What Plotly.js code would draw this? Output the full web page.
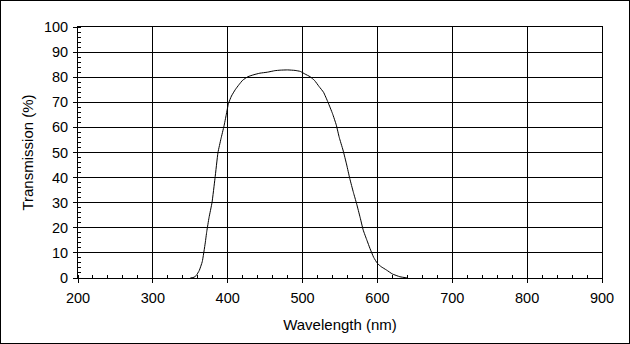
<!DOCTYPE html>
<html>
<head>
<meta charset="utf-8">
<script src="https://cdn.plot.ly/plotly-3.0.1.min.js"></script>
<style>
  html, body { margin: 0; padding: 0; background: #fff; }
  #wrap { position: relative; width: 630px; height: 344px; }
  #chart { width: 630px; height: 344px; }
  #frame { position: absolute; left: 0; top: 0; width: 630px; height: 344px; box-sizing: border-box; border: 1px solid #000; pointer-events: none; }
</style>
</head>
<body>
<div id="wrap"><div id="chart"></div><div id="frame"></div></div>
<script>
const wavelength = [350, 355, 358, 362, 366, 370, 372, 375, 379, 383, 387, 391, 395, 398, 401, 405, 410, 415, 420, 427, 435, 443, 453, 463, 470, 480, 490, 497, 503, 510, 516, 522, 528, 534, 540, 545, 549, 554, 559, 563, 568, 572, 577, 581, 586, 590, 595, 600, 605, 612, 620, 630, 640];
const transmission = [0, 0.3, 1, 3, 6.5, 14, 18.5, 24, 30, 39.7, 50, 55.5, 60.5, 65, 69.5, 72.5, 75, 77, 78.8, 80.2, 81, 81.6, 82, 82.6, 82.8, 82.9, 82.7, 82.3, 81.3, 80.2, 78.7, 76.3, 74, 70, 65.5, 61, 56, 51, 45, 39.7, 34, 29.8, 24, 19.1, 15, 11.8, 8.2, 5.8, 4.5, 3.2, 1.6, 0.5, 0];
const xTitle = 'Wavelength (nm)';
const yTitle = 'Transmission (%)';

const family = 'Arial, "Liberation Sans", sans-serif';
const tickFont = { family: family, size: 14.5, color: '#000' };
const titleFont = { family: family, size: 15, color: '#000' };

Plotly.newPlot('chart', [{
  x: wavelength, y: transmission, type: 'scatter', mode: 'lines',
  line: { color: '#000', width: 1, shape: 'spline', smoothing: 0.4 },
  hoverinfo: 'skip', showlegend: false
}], {
  width: 630, height: 344,
  margin: { l: 78, r: 28, t: 27, b: 66 },
  paper_bgcolor: '#fff', plot_bgcolor: '#fff',
  font: tickFont,
  xaxis: {
    range: [200, 900], dtick: 100, tick0: 200,
    showgrid: true, gridcolor: '#000', gridwidth: 1,
    showline: true, linecolor: '#000', linewidth: 1, mirror: true,
    ticks: 'outside', ticklen: 4, tickcolor: '#000', tickwidth: 1,
    ticklabelstandoff: 3,
    minor: { dtick: 20, ticks: 'inside', ticklen: 3, tickcolor: '#000', showgrid: false },
    zeroline: false, fixedrange: true,
    tickfont: tickFont,
    title: { text: xTitle, font: titleFont, standoff: 14 }
  },
  yaxis: {
    range: [0, 100], dtick: 10, tick0: 0,
    showgrid: true, gridcolor: '#000', gridwidth: 1,
    showline: true, linecolor: '#000', linewidth: 1, mirror: true,
    ticks: 'outside', ticklen: 4, tickcolor: '#000', tickwidth: 1,
    ticklabelstandoff: 2,
    minor: { dtick: 2, ticks: 'inside', ticklen: 3, tickcolor: '#000', showgrid: false },
    zeroline: false, fixedrange: true,
    tickfont: tickFont,
    title: { text: yTitle, font: titleFont, standoff: 6 }
  }
}, { staticPlot: true, displayModeBar: false });
</script>
</body>
</html>
